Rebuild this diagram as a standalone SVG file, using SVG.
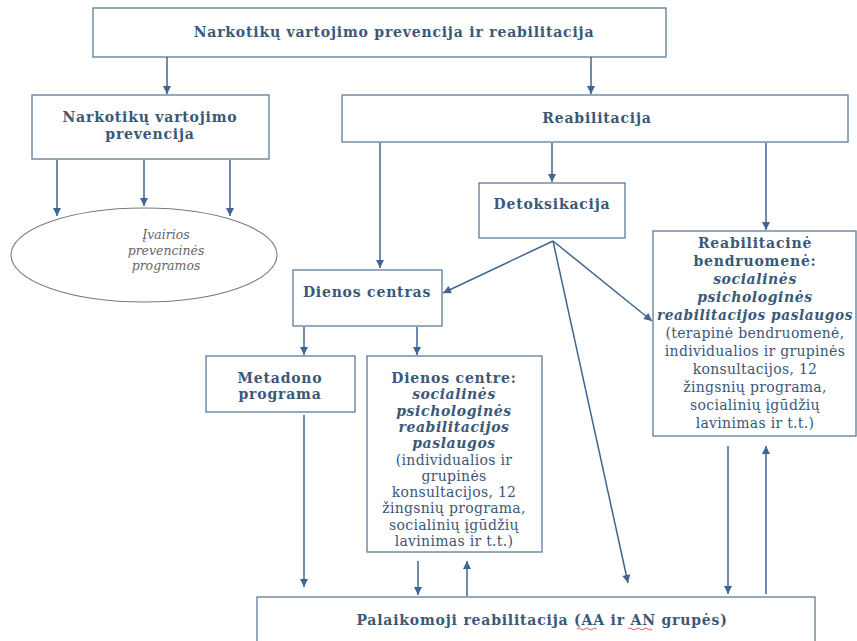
<svg xmlns="http://www.w3.org/2000/svg" width="857" height="641" viewBox="0 0 857 641">
<defs>
<marker id="ah" viewBox="0 0 10 10" refX="10" refY="5" markerWidth="9" markerHeight="8" markerUnits="userSpaceOnUse" orient="auto">
<path d="M0,0 L10,5 L0,10 z" fill="#3f6690"/>
</marker>
<style>
.box{fill:#fff;stroke:#5f7b97;stroke-width:1.3}
.t{font-family:"DejaVu Serif","Liberation Serif",serif;fill:#3a5878;text-anchor:middle}
.b{font-weight:bold;font-size:14px;letter-spacing:0.8px}
.bi{font-weight:bold;font-style:italic;font-size:14px;letter-spacing:0.6px}
.r{font-size:14px;letter-spacing:0.3px}
.el{font-family:"DejaVu Serif","Liberation Serif",serif;font-style:italic;font-size:12.5px;fill:#666;text-anchor:middle}
.c line{stroke:#3f6690;stroke-width:1.5;marker-end:url(#ah)}
</style>
</defs>
<rect width="857" height="641" fill="#fff"/>

<g id="top">
<rect class="box" x="93" y="8" width="573" height="49"/>
<text class="t b" x="394" y="37">Narkotikų vartojimo prevencija ir reabilitacija</text>
</g>

<g id="prevencija">
<rect class="box" x="32" y="95" width="237" height="64"/>
<text class="t b" x="150" y="122">Narkotikų vartojimo</text>
<text class="t b" x="150" y="139">prevencija</text>
</g>

<g id="programos">
<ellipse cx="144" cy="255" rx="133" ry="47" fill="#fff" stroke="#7a7a7a" stroke-width="1.1"/>
<text class="el" x="166" y="239">Įvairios</text>
<text class="el" x="166" y="255">prevencinės</text>
<text class="el" x="166" y="270">programos</text>
</g>

<g id="reabilitacija">
<rect class="box" x="342" y="95" width="506" height="47"/>
<text class="t b" x="597" y="123">Reabilitacija</text>
</g>

<g id="detoksikacija">
<rect class="box" x="479" y="183" width="146" height="55"/>
<text class="t b" x="552" y="209">Detoksikacija</text>
</g>

<g id="dienos-centras">
<rect class="box" x="293" y="270" width="149" height="56"/>
<text class="t b" x="367" y="297">Dienos centras</text>
</g>

<g id="metadono">
<rect class="box" x="206" y="356" width="149" height="56"/>
<text class="t b" x="280" y="383">Metadono</text>
<text class="t b" x="280" y="399">programa</text>
</g>

<g id="dienos-centre">
<rect class="box" x="367" y="356" width="175" height="196"/>
<text class="t b" x="454" y="383">Dienos centre:</text>
<text class="t bi" x="454" y="399">socialinės</text>
<text class="t bi" x="454" y="416">psichologinės</text>
<text class="t bi" x="454" y="432">reabilitacijos</text>
<text class="t bi" x="454" y="448">paslaugos</text>
<text class="t r" x="454" y="465">(individualios ir</text>
<text class="t r" x="454" y="481">grupinės</text>
<text class="t r" x="454" y="497">konsultacijos, 12</text>
<text class="t r" x="454" y="513">žingsnių programa,</text>
<text class="t r" x="454" y="530">socialinių įgūdžių</text>
<text class="t r" x="454" y="546">lavinimas ir t.t.)</text>
</g>

<g id="bendruomene">
<rect class="box" x="653" y="231" width="203" height="205"/>
<text class="t b" x="755" y="248">Reabilitacinė</text>
<text class="t b" x="755" y="266">bendruomenė:</text>
<text class="t bi" x="755" y="284">socialinės</text>
<text class="t bi" x="755" y="302">psichologinės</text>
<text class="t bi" x="755" y="320" textLength="196" lengthAdjust="spacingAndGlyphs">reabilitacijos paslaugos</text>
<text class="t r" x="755" y="338">(terapinė bendruomenė,</text>
<text class="t r" x="755" y="356">individualios ir grupinės</text>
<text class="t r" x="755" y="374">konsultacijos, 12</text>
<text class="t r" x="755" y="392">žingsnių programa,</text>
<text class="t r" x="755" y="410">socialinių įgūdžių</text>
<text class="t r" x="755" y="428">lavinimas ir t.t.)</text>
</g>

<g id="palaikomoji">
<rect class="box" x="257" y="597" width="558" height="60"/>
<text class="t b" x="542" y="625">Palaikomoji reabilitacija (AA ir AN grupės)</text>
<path d="M577,629 q2,-2 4,0 t4,0 t4,0 t4,0 t4,0" fill="none" stroke="#d33" stroke-width="0.8"/>
<path d="M628,629 q2,-2 4,0 t4,0 t4,0 t4,0 t4,0 t4,0" fill="none" stroke="#d33" stroke-width="0.8"/>
</g>

<g id="connectors" class="c">
<line x1="167" y1="57" x2="167" y2="94"/>
<line x1="591" y1="57" x2="591" y2="94"/>
<line x1="57" y1="160" x2="57" y2="216"/>
<line x1="144" y1="160" x2="144" y2="206"/>
<line x1="230" y1="160" x2="230" y2="216"/>
<line x1="380" y1="143" x2="380" y2="268"/>
<line x1="552" y1="143" x2="552" y2="182"/>
<line x1="766" y1="143" x2="766" y2="230"/>
<line x1="553" y1="241" x2="443" y2="293"/>
<line x1="553" y1="241" x2="652" y2="321"/>
<line x1="553" y1="241" x2="628" y2="583"/>
<line x1="304" y1="327" x2="304" y2="355"/>
<line x1="417" y1="327" x2="417" y2="355"/>
<line x1="304" y1="415" x2="304" y2="587"/>
<line x1="418" y1="561" x2="418" y2="595"/>
<line x1="467" y1="596" x2="467" y2="561"/>
<line x1="728" y1="446" x2="728" y2="594"/>
<line x1="766" y1="594" x2="766" y2="446"/>
</g>
</svg>
